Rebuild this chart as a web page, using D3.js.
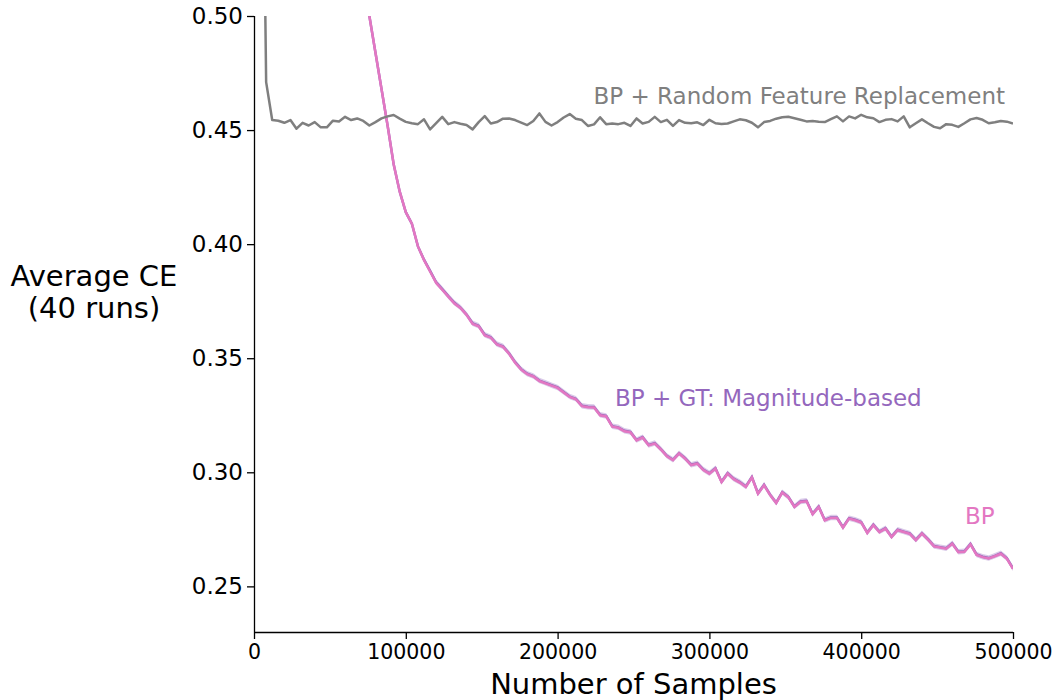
<!DOCTYPE html>
<html>
<head>
<meta charset="utf-8">
<script src="https://cdn.jsdelivr.net/npm/d3@7"></script>
<style>
  body { margin: 0; background: #fff; }
  svg text { font-family: "DejaVu Sans", sans-serif; }
</style>
</head>
<body>
<div class="canvas"></div>
<script>
// sample counts, every 4000 samples
const samples = d3.range(4000, 500001, 4000);

// BP + Random Feature Replacement (grey)
const randomReplacement = [
  0.690, 0.471, 0.4544, 0.4541, 0.4532, 0.4544, 0.4506, 0.4532, 0.4520, 0.4535,
  0.4512, 0.4512, 0.4541, 0.4538, 0.4558, 0.4544, 0.4551, 0.4540, 0.4520, 0.4535,
  0.4551, 0.4560, 0.4566, 0.4550, 0.4536, 0.4530, 0.4526, 0.4547, 0.4503, 0.4530,
  0.4558, 0.4526, 0.4535, 0.4528, 0.4522, 0.4503, 0.4535, 0.4561, 0.4529, 0.4535,
  0.4550, 0.4551, 0.4544, 0.4533, 0.4522, 0.4540, 0.4573, 0.4536, 0.4520, 0.4535,
  0.4555, 0.4570, 0.4550, 0.4544, 0.4518, 0.4525, 0.4556, 0.4526, 0.4529, 0.4526,
  0.4532, 0.4518, 0.4551, 0.4529, 0.4536, 0.4558, 0.4535, 0.4545, 0.4518, 0.4544,
  0.4532, 0.4530, 0.4534, 0.4522, 0.4545, 0.4530, 0.4527, 0.4529, 0.4538, 0.4547,
  0.4543, 0.4532, 0.4512, 0.4535, 0.4540, 0.4550, 0.4556, 0.4558, 0.4552, 0.4545,
  0.4538, 0.4540, 0.4537, 0.4535, 0.4548, 0.4560, 0.4538, 0.4560, 0.4551, 0.4567,
  0.4556, 0.4552, 0.4535, 0.4545, 0.4548, 0.4538, 0.4560, 0.4512, 0.4530, 0.4547,
  0.4530, 0.4514, 0.4508, 0.4526, 0.4523, 0.4514, 0.4530, 0.4547, 0.4553, 0.4545,
  0.4530, 0.4534, 0.4540, 0.4537, 0.4529
];

// BP (pink)
const bp = [
  0.693, 0.692, 0.691, 0.689, 0.686, 0.681, 0.674, 0.665, 0.654, 0.641,
  0.627, 0.612, 0.596, 0.580, 0.564, 0.548, 0.532, 0.516, 0.500, 0.484,
  0.468, 0.452, 0.435, 0.423, 0.414, 0.409, 0.399, 0.393, 0.388, 0.383,
  0.380, 0.377, 0.374, 0.372, 0.369, 0.365, 0.364, 0.360, 0.359, 0.356,
  0.355, 0.352, 0.348, 0.345, 0.343, 0.342, 0.340, 0.339, 0.338, 0.337,
  0.335, 0.333, 0.332, 0.329, 0.3285, 0.3284, 0.325, 0.3245, 0.320, 0.3195,
  0.318, 0.3175, 0.314, 0.3152, 0.3118, 0.3126, 0.310, 0.307, 0.3053, 0.3082,
  0.306, 0.3031, 0.3038, 0.301, 0.2994, 0.3016, 0.2957, 0.2994, 0.297, 0.2955,
  0.2936, 0.2977, 0.2906, 0.2943, 0.290, 0.2865, 0.2911, 0.289, 0.2848, 0.2870,
  0.2873, 0.2816, 0.2848, 0.2789, 0.2800, 0.2800, 0.2757, 0.2797, 0.2790, 0.2780,
  0.2734, 0.2768, 0.2738, 0.2753, 0.2716, 0.2746, 0.2738, 0.2730, 0.2702, 0.2731,
  0.2705, 0.2675, 0.2670, 0.2665, 0.2687, 0.2650, 0.2652, 0.2684, 0.2638, 0.2628,
  0.2622, 0.2632, 0.2643, 0.2621, 0.2577
];

// BP + GT: Magnitude-based (purple), sits right under BP
const gtMagnitude = [
  0.693, 0.692, 0.691, 0.689, 0.686, 0.681, 0.674, 0.665, 0.654, 0.641,
  0.627, 0.612, 0.596, 0.580, 0.564, 0.548, 0.532, 0.516, 0.500, 0.484,
  0.468, 0.452, 0.435, 0.423, 0.414, 0.409, 0.399, 0.3932, 0.3883, 0.3833,
  0.3803, 0.3772, 0.3743, 0.3722, 0.3692, 0.3653, 0.3642, 0.3603, 0.3592, 0.3562,
  0.3552, 0.3522, 0.3483, 0.3452, 0.3432, 0.3422, 0.3402, 0.3392, 0.3382, 0.3372,
  0.3352, 0.3332, 0.3322, 0.3292, 0.3287, 0.3286, 0.3252, 0.3247, 0.3202, 0.3197,
  0.3182, 0.3177, 0.3142, 0.3154, 0.3120, 0.3128, 0.3102, 0.3072, 0.3055, 0.3084,
  0.3062, 0.3033, 0.3040, 0.3012, 0.2996, 0.3018, 0.2959, 0.2996, 0.2972, 0.2957,
  0.2938, 0.2979, 0.2908, 0.2945, 0.2902, 0.2867, 0.2913, 0.2892, 0.2850, 0.2872,
  0.2875, 0.2818, 0.2850, 0.2791, 0.2802, 0.2802, 0.2759, 0.2799, 0.2792, 0.2782,
  0.2736, 0.2770, 0.2740, 0.2755, 0.2718, 0.2748, 0.2740, 0.2732, 0.2704, 0.2733,
  0.2707, 0.2677, 0.2672, 0.2667, 0.2689, 0.2652, 0.2654, 0.2686, 0.2640, 0.2630,
  0.2624, 0.2634, 0.2645, 0.2623, 0.2579
];
const gtStdErr = 0.0012;

const yTicks = [0.25, 0.30, 0.35, 0.40, 0.45, 0.50];
const xTicks = [0, 100000, 200000, 300000, 400000, 500000];

const width = 1058;
const height = 700;
const marginTop = 16;
const marginRight = 45;
const marginBottom = 68;
const marginLeft = 254;

const grey = "#7f7f7f";
const pink = "#e377c2";
const purple = "#9467bd";

const x = d3.scaleLinear()
  .domain([0, 500000])
  .range([marginLeft, width - marginRight]);

const y = d3.scaleLinear()
  .domain([0.23, 0.50])
  .range([height - marginBottom, marginTop]);

const svg = d3.select(".canvas").append("svg")
  .attr("width", width)
  .attr("height", height);

svg.append("clipPath").attr("id", "plot-clip")
  .append("rect")
  .attr("x", marginLeft)
  .attr("y", marginTop)
  .attr("width", width - marginRight - marginLeft)
  .attr("height", height - marginBottom - marginTop);

const plot = svg.append("g").attr("clip-path", "url(#plot-clip)");

const line = d3.line()
  .x(d => x(d[0]))
  .y(d => y(d[1]));

// purple band + line, then BP on top
const band = d3.area()
  .x((d, i) => x(samples[i]))
  .y0(d => y(d - gtStdErr))
  .y1(d => y(d + gtStdErr));

plot.append("path")
  .datum(gtMagnitude)
  .attr("d", band)
  .attr("fill", purple)
  .attr("fill-opacity", 0.35);

plot.append("path")
  .datum(samples.map((s, i) => [s, gtMagnitude[i]]))
  .attr("d", line)
  .attr("fill", "none")
  .attr("stroke", purple)
  .attr("stroke-width", 2.5);

plot.append("path")
  .datum(samples.map((s, i) => [s, bp[i]]))
  .attr("d", line)
  .attr("fill", "none")
  .attr("stroke", pink)
  .attr("stroke-width", 2.5);

plot.append("path")
  .datum(samples.map((s, i) => [s, randomReplacement[i]]))
  .attr("d", line)
  .attr("fill", "none")
  .attr("stroke", grey)
  .attr("stroke-width", 2.5)
  .attr("stroke-linejoin", "round");

// axes
const gx = svg.append("g")
  .attr("transform", `translate(0, ${height - marginBottom})`)
  .call(d3.axisBottom(x).tickValues(xTicks).tickFormat(d3.format("d")).tickSize(7).tickPadding(5));

const gy = svg.append("g")
  .attr("transform", `translate(${marginLeft}, 0)`)
  .call(d3.axisLeft(y).tickValues(yTicks).tickFormat(d3.format(".2f")).tickSize(7).tickPadding(4));

[gx, gy].forEach(g => {
  g.select(".domain").attr("stroke", "#000").attr("stroke-width", 1.3);
  g.selectAll(".tick line").attr("stroke", "#000").attr("stroke-width", 1.3);
  g.selectAll(".tick text").attr("fill", "#000");
});
gx.selectAll(".tick text").style("font-size", "20.5px");
gy.selectAll(".tick text").style("font-size", "23px");
gy.select(".domain").attr("d", `M0.5,${y(0.23)}V${y(0.50)}`);
gx.select(".domain").attr("d", `M${x(0)},0.5H${x(500000)}`);

// axis titles
svg.append("text")
  .attr("x", (marginLeft + width - marginRight) / 2)
  .attr("y", 694)
  .attr("text-anchor", "middle")
  .style("font-size", "29px")
  .text("Number of Samples");

svg.append("text")
  .attr("x", 94)
  .attr("y", 286)
  .attr("text-anchor", "middle")
  .style("font-size", "29px")
  .text("Average CE");

svg.append("text")
  .attr("x", 94)
  .attr("y", 318)
  .attr("text-anchor", "middle")
  .style("font-size", "29px")
  .text("(40 runs)");

// series labels
svg.append("text")
  .attr("x", 1005)
  .attr("y", 104)
  .attr("text-anchor", "end")
  .attr("fill", grey)
  .style("font-size", "23px")
  .text("BP + Random Feature Replacement");

svg.append("text")
  .attr("x", 615)
  .attr("y", 406)
  .attr("fill", purple)
  .style("font-size", "23px")
  .text("BP + GT: Magnitude-based");

svg.append("text")
  .attr("x", 965)
  .attr("y", 524)
  .attr("fill", pink)
  .style("font-size", "23px")
  .text("BP");
</script>
</body>
</html>
